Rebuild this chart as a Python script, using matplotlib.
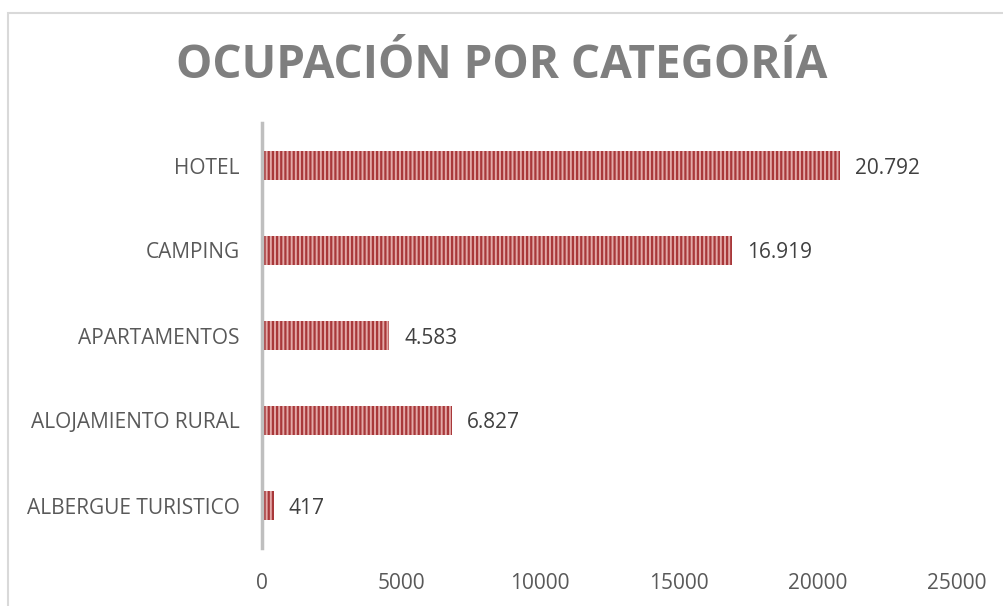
import matplotlib
matplotlib.use('Agg')
import matplotlib.pyplot as plt
from matplotlib.patches import Rectangle

# Data
categories = ['ALBERGUE TURISTICO', 'ALOJAMIENTO RURAL', 'APARTAMENTOS', 'CAMPING', 'HOTEL']
values = [417, 6827, 4583, 16919, 20792]
value_labels = ['417', '6.827', '4.583', '16.919', '20.792']
x_ticks = [0, 5000, 10000, 15000, 20000, 25000]

TITLE = 'OCUPACIÓN POR CATEGORÍA'
W, H = 1004, 606

plt.rcParams['font.family'] = ['Open Sans', 'DejaVu Sans']
plt.rcParams['hatch.linewidth'] = 1.6

fig = plt.figure(figsize=(W / 100, H / 100), dpi=100)
ax = fig.add_axes([262 / W, 1 - 548 / H, (957 - 262) / W, (548 - 123) / H])

# chart frame (only top and left visible in the crop)
fig.add_artist(Rectangle((8 / W, -0.1), 1.2, 1 - 13 / H + 0.1, transform=fig.transFigure,
                         fill=False, edgecolor='#d9d9d9', linewidth=1.5))

pos = range(len(categories))
ax.barh(pos, values, height=0.33, color='#e3a9a8', edgecolor='#a8383a',
        hatch='||||', linewidth=0, zorder=2)

for y, v, lab in zip(pos, values, value_labels):
    ax.text(v + 540, y, lab, va='center_baseline', ha='left', fontsize=15, color='#404040')

ax.set_xlim(0, 25000)
ax.set_ylim(-0.5, 4.5)
ax.set_xticks(x_ticks)
ax.set_xticklabels([str(t) for t in x_ticks])
ax.set_yticks(list(pos))
ax.set_yticklabels(categories, va='center_baseline')
ax.tick_params(axis='both', length=0, labelsize=15, labelcolor='#595959')
ax.tick_params(axis='x', pad=18)
ax.tick_params(axis='y', pad=16)

for s in ['top', 'right', 'bottom']:
    ax.spines[s].set_visible(False)
ax.spines['left'].set_color('#bfbfbf')
ax.spines['left'].set_linewidth(2.5)

fig.text(0.5, 1 - 78 / H, TITLE, ha='center', va='baseline', fontsize=33,
         fontweight='bold', color='#7f7f7f')

fig.savefig('out.png', dpi=100)
